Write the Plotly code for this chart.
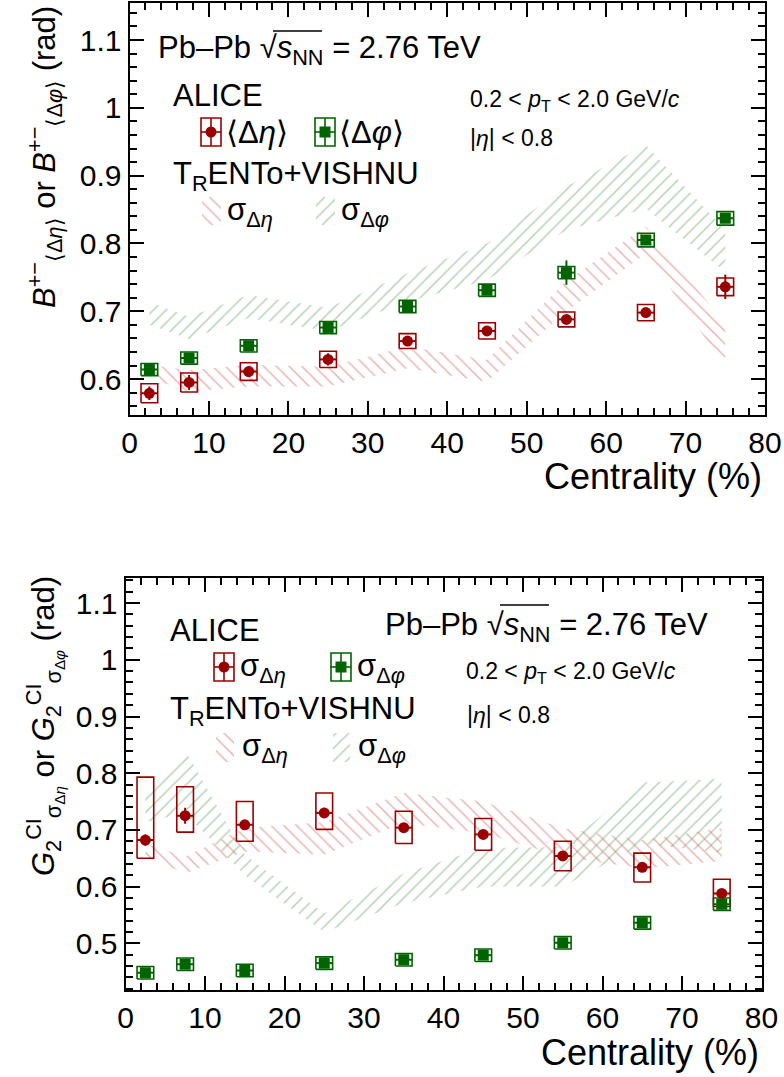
import plotly.graph_objects as go

W, H = 784, 1077
FONT = "Liberation Sans, Arial, Helvetica, sans-serif"
RED = "#9a0000"
GREEN = "#006400"
RED_HATCH = "rgb(214,100,100)"
GREEN_HATCH = "rgb(100,165,100)"
BOX_HW = 1.05

# ---------------- data ----------------
cent = [2.5, 7.5, 15, 25, 35, 45, 55, 65, 75]

# top panel: balance-function widths B^{+-}
b_eta = [0.579, 0.595, 0.611, 0.629, 0.656, 0.671, 0.688, 0.698, 0.736]
b_eta_stat = [0.010, 0.011, 0.008, 0.009, 0.006, 0.006, 0.005, 0.006, 0.018]
b_eta_sys = [0.014, 0.014, 0.013, 0.012, 0.011, 0.012, 0.011, 0.012, 0.013]
b_phi = [0.614, 0.631, 0.649, 0.676, 0.707, 0.731, 0.757, 0.805, 0.837]
b_phi_stat = [0.004, 0.004, 0.004, 0.005, 0.005, 0.005, 0.018, 0.006, 0.006]
b_phi_sys = [0.009, 0.009, 0.009, 0.009, 0.009, 0.009, 0.009, 0.010, 0.010]

# top panel: TRENTo+VISHNU bands
m_b_eta_hi = [0.621, 0.613, 0.621, 0.618, 0.648, 0.628, 0.745, 0.825, 0.682]
m_b_eta_lo = [0.602, 0.581, 0.589, 0.589, 0.616, 0.596, 0.700, 0.785, 0.618]
m_b_phi_hi = [0.714, 0.692, 0.724, 0.705, 0.756, 0.800, 0.884, 0.945, 0.820]
m_b_phi_lo = [0.680, 0.659, 0.690, 0.671, 0.714, 0.746, 0.820, 0.851, 0.758]

# bottom panel: G2^CI widths
g_eta = [0.682, 0.725, 0.709, 0.730, 0.704, 0.692, 0.654, 0.634, 0.588]
g_eta_stat = [0.010, 0.014, 0.008, 0.009, 0.007, 0.007, 0.007, 0.007, 0.007]
g_eta_sys_up = [0.111, 0.051, 0.041, 0.035, 0.029, 0.028, 0.026, 0.025, 0.025]
g_eta_sys_dn = [0.032, 0.029, 0.029, 0.029, 0.028, 0.028, 0.026, 0.026, 0.023]
g_phi = [0.448, 0.463, 0.452, 0.465, 0.471, 0.479, 0.501, 0.536, 0.569]
g_phi_stat = [0.003, 0.003, 0.003, 0.003, 0.003, 0.003, 0.003, 0.003, 0.003]
g_phi_sys = [0.011, 0.011, 0.011, 0.011, 0.011, 0.011, 0.011, 0.011, 0.011]

# bottom panel: TRENTo+VISHNU bands
m_g_eta_hi = [0.675, 0.653, 0.703, 0.714, 0.765, 0.750, 0.703, 0.682, 0.703]
m_g_eta_lo = [0.652, 0.623, 0.662, 0.656, 0.712, 0.694, 0.653, 0.632, 0.645]
m_g_phi_hi = [0.756, 0.841, 0.656, 0.553, 0.623, 0.668, 0.670, 0.783, 0.790]
m_g_phi_lo = [0.714, 0.730, 0.620, 0.520, 0.571, 0.600, 0.600, 0.675, 0.660]

x_ticks = [0, 10, 20, 30, 40, 50, 60, 70, 80]
x_ticklabels = ["0", "10", "20", "30", "40", "50", "60", "70", "80"]
y_ticks_top = [0.6, 0.7, 0.8, 0.9, 1.0, 1.1]
y_ticklabels_top = ["0.6", "0.7", "0.8", "0.9", "1", "1.1"]
y_ticks_bot = [0.5, 0.6, 0.7, 0.8, 0.9, 1.0, 1.1]
y_ticklabels_bot = ["0.5", "0.6", "0.7", "0.8", "0.9", "1", "1.1"]

fig = go.Figure()
PATTERN = dict(bgcolor="rgba(0,0,0,0)", size=9, solidity=0.16)


def band(xs, hi, lo, color, shape, xa, ya):
    return go.Scatter(
        x=list(xs) + list(xs)[::-1], y=list(hi) + list(lo)[::-1],
        mode="lines", fill="toself", fillcolor="rgba(0,0,0,0)",
        fillpattern=dict(shape=shape, fgcolor=color, **PATTERN),
        line=dict(width=0, color="rgba(0,0,0,0)"),
        hoverinfo="skip", showlegend=False, xaxis=xa, yaxis=ya)


def boxes(xs, ys, up, dn, color, xa, ya):
    bx, by = [], []
    for x, y, u, d in zip(xs, ys, up, dn):
        bx += [x - BOX_HW, x + BOX_HW, x + BOX_HW, x - BOX_HW, x - BOX_HW, None]
        by += [y - d, y - d, y + u, y + u, y - d, None]
    return go.Scatter(x=bx, y=by, mode="lines", line=dict(color=color, width=1.6),
                      hoverinfo="skip", showlegend=False, xaxis=xa, yaxis=ya)


def points(xs, ys, stat, color, symbol, xa, ya):
    return go.Scatter(
        x=xs, y=ys, mode="markers",
        marker=dict(symbol=symbol, size=11, color=color, line=dict(width=0)),
        error_y=dict(type="data", array=stat, thickness=2, width=0, color=color),
        error_x=dict(type="constant", value=BOX_HW, thickness=2, width=0, color=color),
        showlegend=False, xaxis=xa, yaxis=ya)


# top panel
fig.add_trace(band(cent, m_b_phi_hi, m_b_phi_lo, GREEN_HATCH, "/", "x", "y"))
fig.add_trace(band(cent, m_b_eta_hi, m_b_eta_lo, RED_HATCH, "\\", "x", "y"))
fig.add_trace(boxes(cent, b_phi, b_phi_sys, b_phi_sys, GREEN, "x", "y"))
fig.add_trace(boxes(cent, b_eta, b_eta_sys, b_eta_sys, RED, "x", "y"))
fig.add_trace(points(cent, b_phi, b_phi_stat, GREEN, "square", "x", "y"))
fig.add_trace(points(cent, b_eta, b_eta_stat, RED, "circle", "x", "y"))

# bottom panel
fig.add_trace(band(cent, m_g_phi_hi, m_g_phi_lo, GREEN_HATCH, "/", "x2", "y2"))
fig.add_trace(band(cent, m_g_eta_hi, m_g_eta_lo, RED_HATCH, "\\", "x2", "y2"))
fig.add_trace(boxes(cent, g_eta, g_eta_sys_up, g_eta_sys_dn, RED, "x2", "y2"))
fig.add_trace(boxes(cent, g_phi, g_phi_sys, g_phi_sys, GREEN, "x2", "y2"))
fig.add_trace(points(cent, g_eta, g_eta_stat, RED, "circle", "x2", "y2"))
fig.add_trace(points(cent, g_phi, g_phi_stat, GREEN, "square", "x2", "y2"))

# ---------------- legend decorations (pixel overlay axes) ----------------
shapes = []
annotations = []


def txt(x, y, s, size=31, anchor="left"):
    annotations.append(dict(x=x, y=y, xref="x3", yref="y3", text=s, showarrow=False,
                            xanchor=anchor, yanchor="middle",
                            font=dict(family=FONT, size=size, color="black")))


def data_icon(cx, cy, color, symbol):
    hw, hh = 10, 14
    shapes.append(dict(type="rect", xref="x3", yref="y3", x0=cx - hw, x1=cx + hw,
                       y0=cy - hh, y1=cy + hh, line=dict(color=color, width=1.6)))
    shapes.append(dict(type="line", xref="x3", yref="y3", x0=cx, x1=cx,
                       y0=cy - hh, y1=cy + hh, line=dict(color=color, width=1.6)))
    shapes.append(dict(type="line", xref="x3", yref="y3", x0=cx - hw, x1=cx + hw,
                       y0=cy, y1=cy, line=dict(color=color, width=1.6)))
    fig.add_trace(go.Scatter(x=[cx], y=[cy], mode="markers",
                             marker=dict(symbol=symbol, size=11, color=color),
                             showlegend=False, hoverinfo="skip", xaxis="x3", yaxis="y3"))


def hatch_icon(x0, x1, y0, y1, color, shape):
    fig.add_trace(go.Scatter(
        x=[x0, x1, x1, x0, x0], y=[y0, y0, y1, y1, y0], mode="lines", fill="toself",
        fillcolor="rgba(0,0,0,0)",
        fillpattern=dict(shape=shape, fgcolor=color, **PATTERN),
        line=dict(width=0, color="rgba(0,0,0,0)"), showlegend=False, hoverinfo="skip",
        xaxis="x3", yaxis="y3"))


def overbar(x0, x1, y):
    shapes.append(dict(type="line", xref="x3", yref="y3", x0=x0, x1=x1, y0=y, y1=y,
                       line=dict(color="black", width=1.5)))


energy = "Pb\u2013Pb \u221a<i>s</i><sub>NN</sub> = 2.76 TeV"
ptcut = "0.2 < <i>p</i><sub>T</sub> < 2.0 GeV/<i>c</i>"
etacut = "|<i>\u03b7</i>| < 0.8"
model = "T<sub>R</sub>ENTo+VISHNU"
sig_eta = "\u03c3<sub>\u0394<i>\u03b7</i></sub>"
sig_phi = "\u03c3<sub>\u0394<i>\u03c6</i></sub>"

# top panel legend
txt(156, 50, energy)
overbar(273, 322, 31)
txt(171, 95, "ALICE")
data_icon(211, 132, RED, "circle")
txt(224, 132, "\u27e8\u0394<i>\u03b7</i>\u27e9")
data_icon(325, 132, GREEN, "square")
txt(337, 132, "\u27e8\u0394<i>\u03c6</i>\u27e9")
txt(171, 176, model)
hatch_icon(202, 221, 197, 225, RED_HATCH, "\\")
txt(225, 212, sig_eta)
hatch_icon(316, 335, 197, 225, GREEN_HATCH, "/")
txt(339, 212, sig_phi)
txt(468, 100, ptcut, size=23)
txt(468, 138, etacut, size=23)
txt(764, 476, "Centrality (%)", size=36, anchor="right")

# bottom panel legend
txt(168, 630, "ALICE")
txt(383, 627, energy)
overbar(500, 549, 605)
data_icon(224, 667, RED, "circle")
txt(238, 668, sig_eta)
data_icon(341, 667, GREEN, "square")
txt(355, 668, sig_phi)
txt(464, 672, ptcut, size=23)
txt(168, 711, model)
txt(465, 715, etacut, size=23)
hatch_icon(216, 234, 733, 762, RED_HATCH, "\\")
txt(240, 748, sig_eta)
hatch_icon(333, 350, 733, 762, GREEN_HATCH, "/")
txt(356, 748, sig_phi)
txt(761, 1052, "Centrality (%)", size=36, anchor="right")

# y axis titles
annotations.append(dict(
    x=44, y=4, xref="x3", yref="y3", textangle=-90, showarrow=False,
    xanchor="center", yanchor="top",
    text="<i>B</i><sup>+\u2212</sup><sub>\u27e8\u0394<i>\u03b7</i>\u27e9</sub> or "
         "<i>B</i><sup>+\u2212</sup><sub>\u27e8\u0394<i>\u03c6</i>\u27e9</sub> (rad)",
    font=dict(family=FONT, size=31, color="black")))
annotations.append(dict(
    x=44, y=574, xref="x3", yref="y3", textangle=-90, showarrow=False,
    xanchor="center", yanchor="top",
    text="<i>G</i><sub>2</sub><sup>CI</sup><sub>\u03c3<sub>\u0394<i>\u03b7</i></sub></sub> or "
         "<i>G</i><sub>2</sub><sup>CI</sup><sub>\u03c3<sub>\u0394<i>\u03c6</i></sub></sub> (rad)",
    font=dict(family=FONT, size=31, color="black")))

axis_common = dict(
    showline=True, linecolor="black", linewidth=2, mirror="allticks",
    ticks="inside", ticklen=14, tickwidth=2, tickcolor="black",
    showgrid=False, zeroline=False, automargin=False,
    tickfont=dict(family=FONT, size=30, color="black"),
)
minor_common = dict(ticks="inside", ticklen=7, tickwidth=2, tickcolor="black")

fig.update_layout(
    width=W, height=H, autosize=False,
    margin=dict(l=0, r=0, t=0, b=0, pad=0),
    paper_bgcolor="white", plot_bgcolor="rgba(0,0,0,0)",
    showlegend=False,
    xaxis=dict(domain=[129.5 / W, 765 / W], range=[0, 80], anchor="y",
               tickmode="array", tickvals=x_ticks, ticktext=x_ticklabels,
               minor=dict(dtick=2, tick0=0, **minor_common), **axis_common),
    yaxis=dict(domain=[1 - 415 / H, 1 - 3 / H], range=[0.547, 1.1546], anchor="x",
               tickmode="array", tickvals=y_ticks_top, ticktext=y_ticklabels_top,
               minor=dict(dtick=0.02, tick0=0, **minor_common), **axis_common),
    xaxis2=dict(domain=[125.5 / W, 761.5 / W], range=[0, 80], anchor="y2",
                tickmode="array", tickvals=x_ticks, ticktext=x_ticklabels,
                minor=dict(dtick=2, tick0=0, **minor_common), **axis_common),
    yaxis2=dict(domain=[1 - 990 / H, 1 - 578 / H], range=[0.4176, 1.1443], anchor="x2",
                tickmode="array", tickvals=y_ticks_bot, ticktext=y_ticklabels_bot,
                minor=dict(dtick=0.02, tick0=0, **minor_common), **axis_common),
    xaxis3=dict(domain=[0, 1], range=[0, W], anchor="y3", visible=False, fixedrange=True),
    yaxis3=dict(domain=[0, 1], range=[H, 0], anchor="x3", visible=False, fixedrange=True),
    shapes=shapes,
    annotations=annotations,
)

fig.write_html(
    "out.html",
    config={"responsive": False, "displayModeBar": False},
    post_script="document.body.style.margin='0';document.body.style.overflow='hidden';",
)
